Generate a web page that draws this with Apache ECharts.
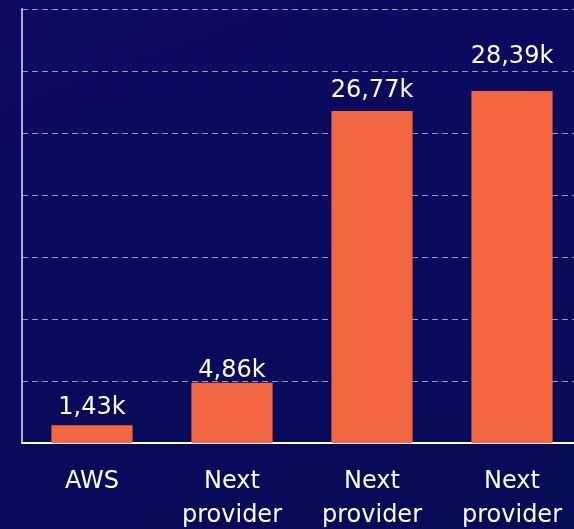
<!DOCTYPE html>
<html>
<head>
<meta charset="utf-8">
<script src="https://cdn.jsdelivr.net/npm/echarts@6/dist/echarts.min.js"></script>
<style>
  html, body { margin: 0; padding: 0; }
  #chart {
    width: 574px;
    height: 529px;
    background: linear-gradient(160deg, #0e0a62 0%, #0a0a5c 50%, #070a56 100%);
  }
</style>
</head>
<body>
<div id="chart"></div>
<script>
// --- data ---
const categories = ['AWS', 'Next\nprovider', 'Next\nprovider', 'Next\nprovider'];
const costs = [1430, 4860, 26770, 28390];
const valueLabels = ['1,43k', '4,86k', '26,77k', '28,39k'];

// label gap above each bar (styling only)
const labelGaps = [6, 0, 8, 22];

const BAR_COLOR = '#f26641';
const TEXT_COLOR = '#ffffff';
const FONT = '"DejaVu Sans", sans-serif';

const chart = echarts.init(document.getElementById('chart'));

chart.setOption({
  backgroundColor: 'transparent',
  animation: false,
  grid: {
    left: 22,
    top: 9,
    width: 560,
    bottom: 86,
    containLabel: false,
    outerBoundsMode: 'none'
  },
  xAxis: {
    type: 'category',
    data: categories,
    axisTick: { show: false },
    axisLine: { lineStyle: { color: '#ffffff', width: 2 } },
    axisLabel: {
      color: TEXT_COLOR,
      fontFamily: FONT,
      fontSize: 24,
      lineHeight: 34,
      margin: 22,
      interval: 0
    }
  },
  yAxis: {
    type: 'value',
    min: 0,
    max: 35000,
    interval: 5000,
    axisLabel: { show: false },
    axisTick: { show: false },
    axisLine: { show: true, lineStyle: { color: 'rgba(200,200,225,0.85)', width: 2 } },
    splitLine: {
      show: true,
      lineStyle: { color: 'rgba(200,200,235,0.75)', type: [6, 4], width: 1 }
    }
  },
  series: [{
    type: 'bar',
    barWidth: '58%',
    data: costs.map((v, i) => ({
      value: v,
      label: { distance: labelGaps[i] }
    })),
    itemStyle: { color: BAR_COLOR },
    label: {
      show: true,
      position: 'top',
      color: TEXT_COLOR,
      fontFamily: FONT,
      fontSize: 24,
      formatter: (p) => valueLabels[p.dataIndex]
    }
  }]
});
</script>
</body>
</html>
